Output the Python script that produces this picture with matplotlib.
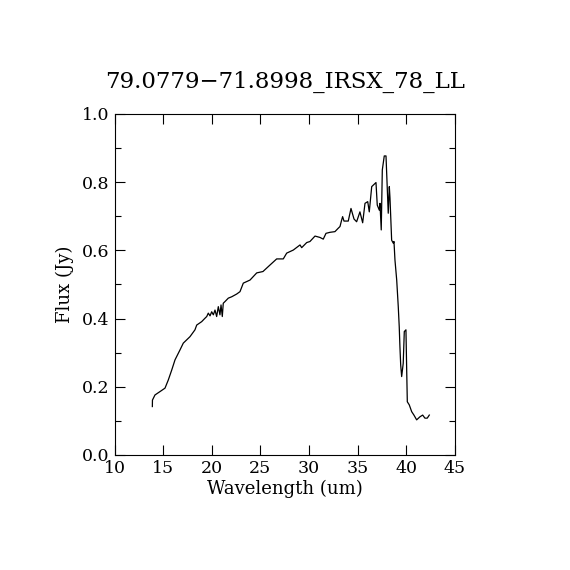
import matplotlib
matplotlib.use("Agg")
import matplotlib.pyplot as plt
from matplotlib.ticker import MultipleLocator

# spectrum (wavelength in um, flux in Jy)
wavelength = [13.89, 13.90, 14.16, 14.68, 15.19, 15.53, 15.88, 16.22, 16.73, 17.07,
              17.76, 18.27, 18.45, 18.96, 19.30, 19.48, 19.64, 19.82, 19.99, 20.16,
              20.33, 20.50, 20.67, 20.84, 20.95, 21.08, 21.18, 21.36, 21.53, 21.70,
              22.05, 22.56, 22.90, 23.24, 23.93, 24.62, 25.26, 25.98, 26.67, 27.35,
              27.70, 28.38, 29.07, 29.24, 29.76, 30.09, 30.61, 31.12, 31.46, 31.74,
              32.15, 32.66, 33.00, 33.18, 33.35, 33.45, 33.59, 34.03, 34.31, 34.62,
              34.89, 35.23, 35.51, 35.75, 36.03, 36.19, 36.44, 36.88, 37.01, 37.22,
              37.29, 37.42, 37.53, 37.73, 37.91, 38.04, 38.14, 38.25, 38.32, 38.49,
              38.66, 38.73, 38.83, 39.01, 39.17, 39.27, 39.34, 39.42, 39.52, 39.68,
              39.79, 39.96, 40.03, 40.10, 40.30, 40.55, 40.78, 41.06, 41.40, 41.68,
              41.91, 42.15, 42.36]
flux = [0.142, 0.161, 0.176, 0.186, 0.196, 0.220, 0.249, 0.279, 0.308, 0.328,
        0.347, 0.367, 0.381, 0.391, 0.401, 0.406, 0.416, 0.408, 0.420, 0.411,
        0.425, 0.406, 0.435, 0.411, 0.440, 0.406, 0.445, 0.450, 0.455, 0.460,
        0.464, 0.472, 0.479, 0.504, 0.513, 0.534, 0.538, 0.557, 0.575, 0.575,
        0.592, 0.601, 0.616, 0.608, 0.623, 0.626, 0.642, 0.638, 0.633, 0.650,
        0.653, 0.655, 0.665, 0.670, 0.689, 0.699, 0.686, 0.686, 0.723, 0.692,
        0.684, 0.713, 0.681, 0.738, 0.743, 0.713, 0.787, 0.799, 0.733, 0.718,
        0.738, 0.660, 0.836, 0.877, 0.877, 0.782, 0.709, 0.787, 0.753, 0.630,
        0.621, 0.626, 0.572, 0.513, 0.435, 0.376, 0.318, 0.264, 0.230, 0.269,
        0.362, 0.367, 0.259, 0.156, 0.147, 0.127, 0.117, 0.103, 0.112, 0.117,
        0.108, 0.108, 0.117]

title = "79.0779\u221271.8998_IRSX_78_LL"

plt.rcParams['font.family'] = ['DejaVu Serif']

fig = plt.figure(figsize=(5.7, 5.7), dpi=100)
ax = fig.add_axes([0.2009, 0.2018, 0.5973, 0.5982])
ax.plot(wavelength, flux, color='black', lw=0.9)

ax.set_xlim(10, 45)
ax.set_ylim(0, 1.0)
ax.xaxis.set_major_locator(MultipleLocator(5))
ax.yaxis.set_major_locator(MultipleLocator(0.2))
ax.yaxis.set_minor_locator(MultipleLocator(0.1))
ax.yaxis.set_major_formatter(matplotlib.ticker.FormatStrFormatter('%.1f'))
ax.tick_params(which='both', direction='in', top=True, right=True,
               labelsize=12.5, width=0.8)
ax.tick_params(which='major', length=7)
ax.tick_params(which='minor', length=4)
for s in ax.spines.values():
    s.set_linewidth(0.8)

ax.set_xlabel('Wavelength (um)', fontsize=13, labelpad=2)
ax.set_ylabel('Flux (Jy)', fontsize=13, labelpad=6)
ax.set_title(title, fontsize=16.5, pad=19)

fig.savefig('out.png', dpi=100)
